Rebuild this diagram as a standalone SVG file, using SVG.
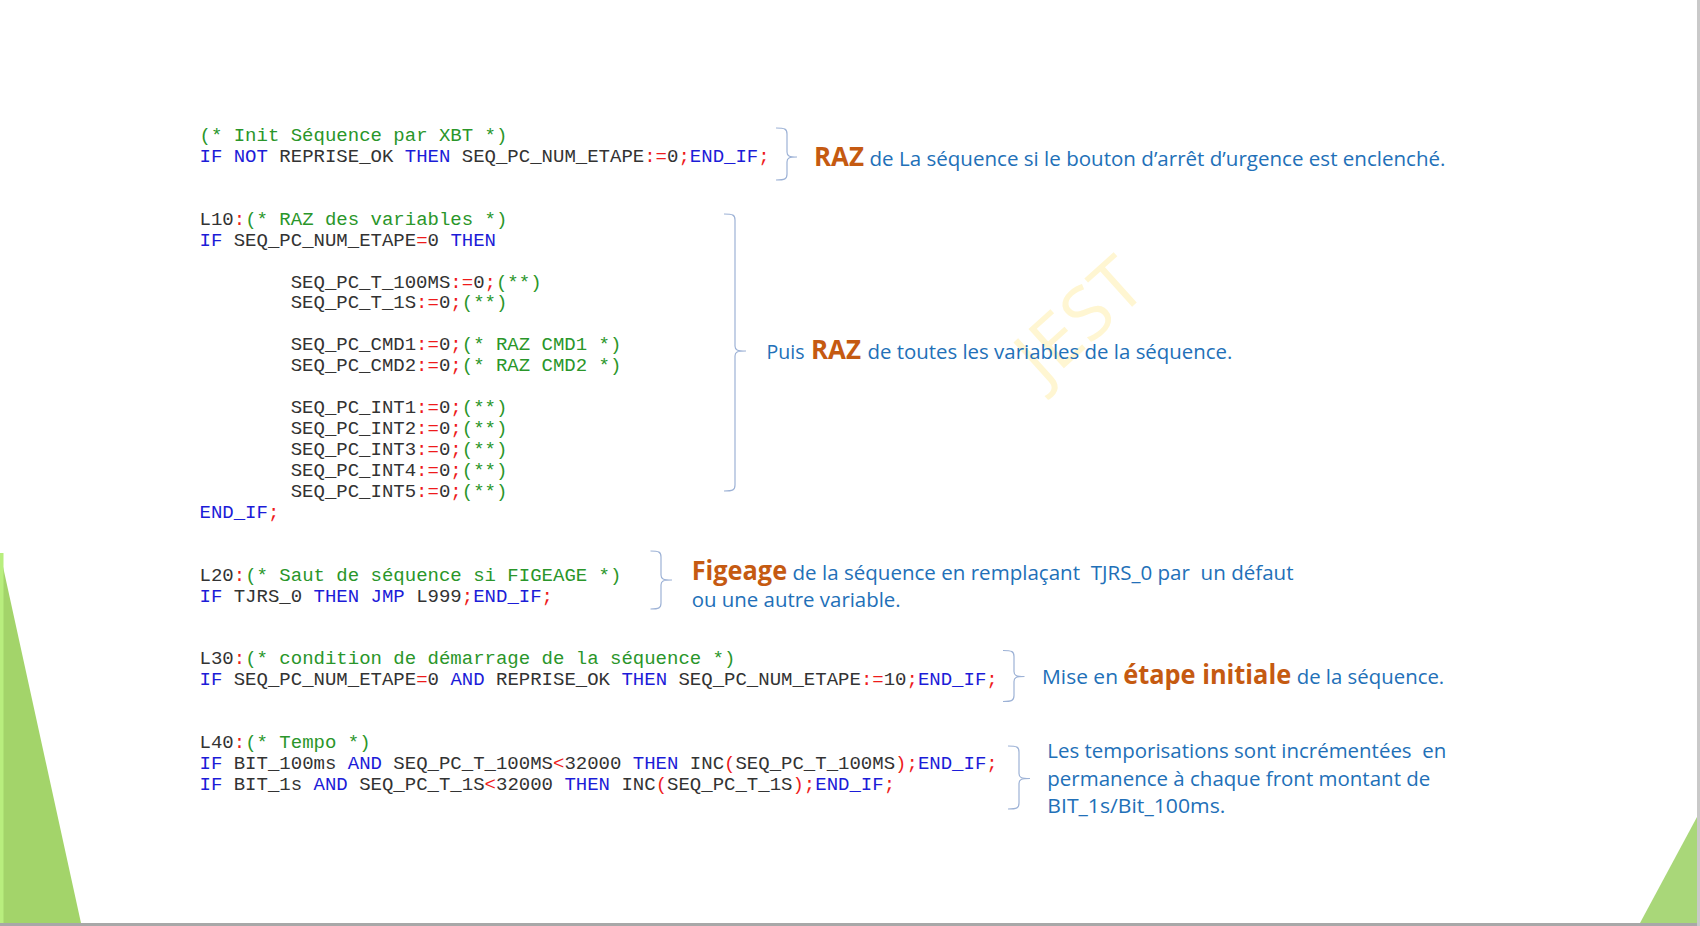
<svg xmlns="http://www.w3.org/2000/svg" width="1700" height="926" viewBox="0 0 1700 926">
<style>
.code{font-family:"Liberation Mono","Courier New",monospace;font-size:19px;fill:#333333;}
.k{fill:#1c1cd8;}
.o{fill:#ee1b1b;}
.c{fill:#2a962a;}
.note{font-family:"Open Sans","Liberation Sans",sans-serif;font-size:20.5px;fill:#2270b8;}
.hl{font-family:"Open Sans","Liberation Sans",sans-serif;font-size:26px;font-weight:bold;fill:#c55a11;}
.brace{fill:none;stroke:#9db2d6;stroke-width:1.2;}
</style>
<rect x="0" y="0" width="1700" height="926" fill="#ffffff"/>
<g id="decor">
<polygon points="0,553 81,923 0,923" fill="#a3d46a"/>
<rect x="0" y="553" width="3.5" height="370" fill="#b8ee7e"/>
<polygon points="1697,817 1640,923 1697,923" fill="#a9d779"/>
<rect x="0" y="923" width="1700" height="3" fill="#a8a8a8"/>
<rect x="1697" y="0" width="3" height="926" fill="#c9c9c9"/>
<text x="1080" y="345" transform="rotate(-42 1080 320)" text-anchor="middle" font-family="'Open Sans','Liberation Sans',sans-serif" font-size="74" fill="#fff6d2">JEST</text>
</g>
<g id="block-init">
<text class="code" x="199.5" y="141" xml:space="preserve"><tspan class="c">(* Init Séquence par XBT *)</tspan></text>
<text class="code" x="199.5" y="161.9" xml:space="preserve"><tspan class="k">IF NOT</tspan> REPRISE_OK <tspan class="k">THEN</tspan> SEQ_PC_NUM_ETAPE<tspan class="o">:=</tspan>0<tspan class="o">;</tspan><tspan class="k">END_IF</tspan><tspan class="o">;</tspan></text>
</g>
<g id="block-L10">
<text class="code" x="199.5" y="224.7" xml:space="preserve">L10<tspan class="o">:</tspan><tspan class="c">(* RAZ des variables *)</tspan></text>
<text class="code" x="199.5" y="245.7" xml:space="preserve"><tspan class="k">IF</tspan> SEQ_PC_NUM_ETAPE<tspan class="o">=</tspan>0 <tspan class="k">THEN</tspan></text>
<text class="code" x="290.7" y="287.5" xml:space="preserve">SEQ_PC_T_100MS<tspan class="o">:=</tspan>0<tspan class="o">;</tspan><tspan class="c">(**)</tspan></text>
<text class="code" x="290.7" y="308.4" xml:space="preserve">SEQ_PC_T_1S<tspan class="o">:=</tspan>0<tspan class="o">;</tspan><tspan class="c">(**)</tspan></text>
<text class="code" x="290.7" y="350.3" xml:space="preserve">SEQ_PC_CMD1<tspan class="o">:=</tspan>0<tspan class="o">;</tspan><tspan class="c">(* RAZ CMD1 *)</tspan></text>
<text class="code" x="290.7" y="371.2" xml:space="preserve">SEQ_PC_CMD2<tspan class="o">:=</tspan>0<tspan class="o">;</tspan><tspan class="c">(* RAZ CMD2 *)</tspan></text>
<text class="code" x="290.7" y="413.1" xml:space="preserve">SEQ_PC_INT1<tspan class="o">:=</tspan>0<tspan class="o">;</tspan><tspan class="c">(**)</tspan></text>
<text class="code" x="290.7" y="434" xml:space="preserve">SEQ_PC_INT2<tspan class="o">:=</tspan>0<tspan class="o">;</tspan><tspan class="c">(**)</tspan></text>
<text class="code" x="290.7" y="454.9" xml:space="preserve">SEQ_PC_INT3<tspan class="o">:=</tspan>0<tspan class="o">;</tspan><tspan class="c">(**)</tspan></text>
<text class="code" x="290.7" y="475.9" xml:space="preserve">SEQ_PC_INT4<tspan class="o">:=</tspan>0<tspan class="o">;</tspan><tspan class="c">(**)</tspan></text>
<text class="code" x="290.7" y="496.8" xml:space="preserve">SEQ_PC_INT5<tspan class="o">:=</tspan>0<tspan class="o">;</tspan><tspan class="c">(**)</tspan></text>
<text class="code" x="199.5" y="517.7" xml:space="preserve"><tspan class="k">END_IF</tspan><tspan class="o">;</tspan></text>
</g>
<g id="block-L20">
<text class="code" x="199.5" y="580.5" xml:space="preserve">L20<tspan class="o">:</tspan><tspan class="c">(* Saut de séquence si FIGEAGE *)</tspan></text>
<text class="code" x="199.5" y="601.5" xml:space="preserve"><tspan class="k">IF</tspan> TJRS_0 <tspan class="k">THEN JMP</tspan> L999<tspan class="o">;</tspan><tspan class="k">END_IF</tspan><tspan class="o">;</tspan></text>
</g>
<g id="block-L30">
<text class="code" x="199.5" y="664.3" xml:space="preserve">L30<tspan class="o">:</tspan><tspan class="c">(* condition de démarrage de la séquence *)</tspan></text>
<text class="code" x="199.5" y="685.2" xml:space="preserve"><tspan class="k">IF</tspan> SEQ_PC_NUM_ETAPE<tspan class="o">=</tspan>0 <tspan class="k">AND</tspan> REPRISE_OK <tspan class="k">THEN</tspan> SEQ_PC_NUM_ETAPE<tspan class="o">:=</tspan>10<tspan class="o">;</tspan><tspan class="k">END_IF</tspan><tspan class="o">;</tspan></text>
</g>
<g id="block-L40">
<text class="code" x="199.5" y="748" xml:space="preserve">L40<tspan class="o">:</tspan><tspan class="c">(* Tempo *)</tspan></text>
<text class="code" x="199.5" y="768.9" xml:space="preserve"><tspan class="k">IF</tspan> BIT_100ms <tspan class="k">AND</tspan> SEQ_PC_T_100MS<tspan class="o">&lt;</tspan>32000 <tspan class="k">THEN</tspan> INC<tspan class="o">(</tspan>SEQ_PC_T_100MS<tspan class="o">);</tspan><tspan class="k">END_IF</tspan><tspan class="o">;</tspan></text>
<text class="code" x="199.5" y="789.8" xml:space="preserve"><tspan class="k">IF</tspan> BIT_1s <tspan class="k">AND</tspan> SEQ_PC_T_1S<tspan class="o">&lt;</tspan>32000 <tspan class="k">THEN</tspan> INC<tspan class="o">(</tspan>SEQ_PC_T_1S<tspan class="o">);</tspan><tspan class="k">END_IF</tspan><tspan class="o">;</tspan></text>
</g>
<g id="connectors">
<path class="brace" d="M776,128 C785,128 787,129 787,134 L787,152 C787,156 789,157 797,157 C789,157 787,158 787,162 L787,174 C787,179 785,180 776,180"/>
<path class="brace" d="M724,214 C733,214 735,215 735,220 L735,346 C735,350 737,351 746,351 C737,351 735,352 735,356 L735,485 C735,490 733,491 724,491"/>
<path class="brace" d="M650.5,551 C659,551 661,552 661,557 L661,575 C661,579 663,580 672,580 C663,580 661,581 661,585 L661,603 C661,608 659,609 650.5,609"/>
<path class="brace" d="M1003,650.5 C1012,650.5 1014,651.5 1014,656.5 L1014,671.5 C1014,675.5 1016,676.5 1024.5,676.5 C1016,676.5 1014,677.5 1014,681.5 L1014,695.5 C1014,700.5 1012,701.5 1003,701.5"/>
<path class="brace" d="M1008,746 C1017,746 1019,747 1019,752 L1019,773.5 C1019,777.5 1021,778.5 1030,778.5 C1021,778.5 1019,779.5 1019,783.5 L1019,803 C1019,808 1017,809 1008,809"/>
</g>
<g id="note-raz-init">
<text class="hl" x="814" y="166" textLength="50" lengthAdjust="spacingAndGlyphs">RAZ</text>
<text class="note" x="869.5" y="166" textLength="576" lengthAdjust="spacingAndGlyphs">de La séquence si le bouton d’arrêt d’urgence est enclenché.</text>
</g>
<g id="note-raz-variables">
<text class="note" x="766.5" y="359" textLength="38" lengthAdjust="spacingAndGlyphs">Puis</text>
<text class="hl" x="811" y="359" textLength="50" lengthAdjust="spacingAndGlyphs">RAZ</text>
<text class="note" x="867.4" y="359" textLength="365" lengthAdjust="spacingAndGlyphs">de toutes les variables de la séquence.</text>
</g>
<g id="note-figeage">
<text class="hl" x="691.7" y="580" textLength="95.4" lengthAdjust="spacingAndGlyphs">Figeage</text>
<text class="note" x="792.5" y="580" textLength="501" lengthAdjust="spacingAndGlyphs" xml:space="preserve">de la séquence en remplaçant  TJRS_0 par  un défaut</text>
<text class="note" x="691.7" y="607" textLength="209" lengthAdjust="spacingAndGlyphs">ou une autre variable.</text>
</g>
<g id="note-etape-initiale">
<text class="note" x="1042" y="684" textLength="76" lengthAdjust="spacingAndGlyphs">Mise en</text>
<text class="hl" x="1123.2" y="684" textLength="168" lengthAdjust="spacingAndGlyphs">étape initiale</text>
<text class="note" x="1296.7" y="684" textLength="147.5" lengthAdjust="spacingAndGlyphs">de la séquence.</text>
</g>
<g id="note-tempo">
<text class="note" x="1047.3" y="758" textLength="399" lengthAdjust="spacingAndGlyphs" xml:space="preserve">Les temporisations sont incrémentées  en</text>
<text class="note" x="1047.3" y="786" textLength="383" lengthAdjust="spacingAndGlyphs">permanence à chaque front montant de</text>
<text class="note" x="1047.3" y="813" textLength="178" lengthAdjust="spacingAndGlyphs">BIT_1s/Bit_100ms.</text>
</g>
</svg>
